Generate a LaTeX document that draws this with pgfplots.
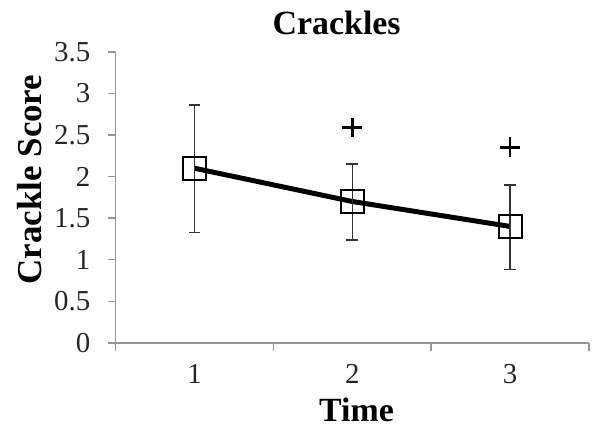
\documentclass[border=0pt]{standalone}
\usepackage{fontspec}
\setmainfont{Liberation Serif}
\usepackage{pgfplots}
\pgfplotsset{compat=1.18}
\definecolor{axgray}{RGB}{150,150,150}
\begin{document}
\begin{tikzpicture}
\useasboundingbox (-58pt,-45.5pt) rectangle (239.5pt,172pt);
\begin{axis}[
  at={(0pt,0pt)}, anchor=south west,
  scale only axis, width=237.5pt, height=146pt,
  xmin=0.5, xmax=3.5, ymin=0, ymax=3.5,
  clip=false,
  axis lines*=left,
  axis line style={axgray, line width=0.75pt},
  xtick={1,2,3}, minor xtick={0.5,1.5,2.5,3.5},
  ytick={0,0.5,1,1.5,2,2.5,3,3.5},
  yticklabels={0,0.5,1,1.5,2,2.5,3,3.5},
  tick align=outside,
  major tick length=4pt, minor tick length=4pt,
  major x tick style={draw=none},
  tick style={axgray, line width=0.75pt},
  tick label style={font=\fontsize{14.5}{16}\selectfont, text=black!85},
  /pgf/number format/assume math mode=true,
  yticklabel style={anchor=east, inner sep=0pt, xshift=-8.5pt},
  xticklabel style={anchor=base, inner sep=0pt, yshift=-16.5pt},
  every axis title shift=0pt,
  title={Crackles},
  title style={font=\fontsize{17}{18}\selectfont\bfseries, at={(axis description cs:0.467,1.058)}, anchor=base},
  xlabel={Time},
  xlabel style={font=\fontsize{17}{18}\selectfont\bfseries, at={(axis description cs:0.509,-0.2705)}, anchor=base},
  ylabel={Crackle Score},
  ylabel style={font=\fontsize{17.5}{18}\selectfont\bfseries, at={(axis description cs:-0.181,0.5616)}, anchor=center, rotate=0},
]
\addplot[black, line width=2.5pt, mark=square,
  mark options={solid, black, line width=1pt, fill=none, mark size=5.75pt},
  error bars/.cd, y dir=both, y explicit,
  error bar style={line width=0.7pt, black!80},
  error mark options={rotate=90, mark size=3pt, line width=0.7pt, black!80}]
  coordinates {
  (1,2.10) += (0,0.76) -= (0,0.77)
  (2,1.70) += (0,0.45) -= (0,0.465)
  (3,1.40) += (0,0.50) -= (0,0.52)
  };
\addplot[only marks, mark=+, mark size=5pt, mark options={line width=1.3pt, black}]
  coordinates {(2,2.59) (3,2.35)};
\end{axis}
\end{tikzpicture}
\end{document}
